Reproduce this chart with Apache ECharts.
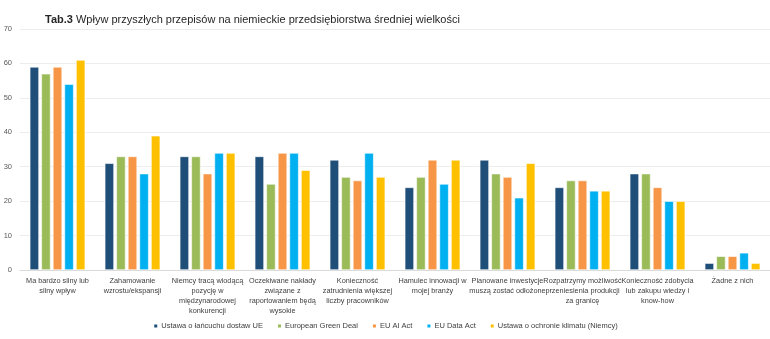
<!DOCTYPE html>
<html>
<head>
<meta charset="utf-8">
<script src="https://cdn.jsdelivr.net/npm/echarts@6/dist/echarts.min.js"></script>
<style>
  html, body { margin: 0; padding: 0; background: #fff; }
  #chart { width: 770px; height: 339px; }
</style>
</head>
<body>
<div id="chart"></div>
<script>
// kategorie (osi X)
const categories = [
  'Ma bardzo silny lub\nsilny wpływ',
  'Zahamowanie\nwzrostu/ekspansji',
  'Niemcy tracą wiodącą\npozycję w\nmiędzynarodowej\nkonkurencji',
  'Oczekiwane nakłady\nzwiązane z\nraportowaniem będą\nwysokie',
  'Konieczność\nzatrudnienia większej\nliczby pracowników',
  'Hamulec innowacji w\nmojej branży',
  'Planowane inwestycje\nmuszą zostać odłożone',
  'Rozpatrzymy możliwość\nprzeniesienia produkcji\nza granicę',
  'Konieczność zdobycia\nlub zakupu wiedzy i\nknow-how',
  'Żadne z nich'
]

const seriesNames = [
  'Ustawa o łańcuchu dostaw UE',
  'European Green Deal',
  'EU AI Act',
  'EU Data Act',
  'Ustawa o ochronie klimatu (Niemcy)'
]

const lancuchDostaw = [59, 31, 33, 33, 32, 24, 32, 24, 28, 2]
const greenDeal     = [57, 33, 33, 25, 27, 27, 28, 26, 28, 4]
const aiAct         = [59, 33, 28, 34, 26, 32, 27, 26, 24, 4]
const dataAct       = [54, 28, 34, 34, 34, 25, 21, 23, 20, 5]
const ochronaKlimatu = [61, 39, 34, 29, 27, 32, 31, 23, 20, 2]

const colors = ['#1F4E79', '#9BBB59', '#F79646', '#00B0F0', '#FFC000']
const values = [lancuchDostaw, greenDeal, aiAct, dataAct, ochronaKlimatu]

const font = '"Liberation Sans", sans-serif'

const chart = echarts.init(document.getElementById('chart'))

const option = {
  backgroundColor: '#fff',
  animation: false,
  textStyle: { fontFamily: font },
  title: {
    text: '{b|Tab.3} Wpływ przyszłych przepisów na niemieckie przedsiębiorstwa średniej wielkości',
    left: 40,
    top: 9,
    textStyle: {
      fontFamily: font,
      fontSize: 11,
      fontWeight: 'normal',
      color: '#262626',
      rich: {
        b: { fontFamily: font, fontSize: 11, fontWeight: 'bold', color: '#262626' }
      }
    }
  },
  legend: {
    bottom: 4,
    left: 'center',
    itemWidth: 5,
    itemHeight: 5,
    itemGap: 13,
    icon: 'rect',
    textStyle: { fontFamily: font, fontSize: 7.5, color: '#404040', padding: [0, 0, 0, -2] },
    data: seriesNames
  },
  grid: {
    left: 20,
    right: 0,
    top: 29,
    bottom: 69
  },
  xAxis: {
    type: 'category',
    data: categories,
    axisTick: { show: false },
    axisLine: { lineStyle: { color: '#D9D9D9' } },
    axisLabel: {
      interval: 0,
      fontFamily: font,
      fontSize: 7.3,
      lineHeight: 10,
      color: '#404040',
      margin: 6
    }
  },
  yAxis: {
    type: 'value',
    min: 0,
    max: 70,
    interval: 10,
    axisLine: { show: false },
    axisTick: { show: false },
    axisLabel: { fontFamily: font, fontSize: 7.5, color: '#595959', margin: 8 },
    splitLine: { lineStyle: { color: '#EDEDED' } }
  },
  series: seriesNames.map((name, i) => ({
    name: name,
    type: 'bar',
    data: values[i],
    barGap: '25%',
    barCategoryGap: '26%',
    itemStyle: {
      color: colors[i],
      borderColor: '#fff',
      borderWidth: 0.6
    }
  }))
}

chart.setOption(option)
</script>
</body>
</html>
